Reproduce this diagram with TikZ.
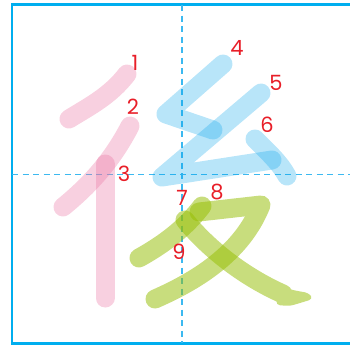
\documentclass[tikz,border=0pt]{standalone}
\usepackage{fontspec}
\setmainfont{Poppins}
\begin{document}
\begin{tikzpicture}[x=1pt,y=-1pt,
  stroke/.style={line width=19pt,line cap=round,line join=round},
  pinkstroke/.style={stroke,draw=pinkc,opacity=0.35},
  bluestroke/.style={stroke,draw=bluec,opacity=0.28},
  greenstroke/.style={stroke,draw=greenc,opacity=0.52},
  guide/.style={draw=guidec,line width=1.2pt,dash pattern=on 6pt off 4.5pt},
  num/.style={text=numc,font=\fontsize{21}{21}\selectfont,inner sep=0pt}]
\definecolor{pinkc}{RGB}{235,120,165}
\definecolor{bluec}{RGB}{0,160,235}
\definecolor{greenc}{RGB}{150,190,5}
\definecolor{guidec}{RGB}{60,185,240}
\definecolor{framec}{RGB}{0,174,239}
\definecolor{numc}{RGB}{232,30,40}
\useasboundingbox (0,0) rectangle (350,346);
% frame and guides
\coordinate (fTL) at (12,4.7);
\coordinate (fBR) at (356,343.5);
\draw[draw=framec,line width=2.5pt] (fTL) rectangle (fBR);
\coordinate (vT) at (182,5);
\coordinate (vB) at (182,343);
\coordinate (hL) at (12,174.3);
\coordinate (hR) at (350,174.3);
\draw[guide] (vT) -- (vB);
\draw[guide] (hL) -- (hR);
% pink strokes
\coordinate (s1a) at (127,74);
\coordinate (s1b) at (69,119);
\draw[pinkstroke] (s1a) .. controls (110,96) and (90,106) .. (s1b);
\coordinate (s2a) at (130,126);
\coordinate (s2b) at (63,207);
\draw[pinkstroke] (s2a) .. controls (115,155) and (95,181) .. (s2b);
\coordinate (s3a) at (105,164);
\coordinate (s3b) at (105,298);
\draw[pinkstroke] (s3a) -- (s3b);
% blue strokes
\coordinate (s4a) at (223,64);
\coordinate (s4b) at (166,114);
\coordinate (s4c) at (213,130);
\draw[bluestroke] (s4a) -- (s4b) -- (s4c);
\coordinate (s5a) at (261,93);
\coordinate (s5b) at (162,177);
\coordinate (s5c) at (272,160);
\draw[bluestroke] (s5a) -- (s5b) -- (s5c);
\coordinate (s6a) at (255,139);
\coordinate (s6b) at (287,176);
\draw[bluestroke] (s6a) .. controls (268,152) and (280,163) .. (s6b);
% green strokes
\coordinate (s7a) at (202,206);
\coordinate (s7b) at (139,258);
\draw[greenstroke] (s7a) .. controls (186,227) and (166,243) .. (s7b);
\coordinate (s8a) at (199,212);
\coordinate (s8b) at (261,205);
\coordinate (s8c) at (155,299);
\draw[greenstroke] (s8a) -- (s8b) .. controls (245,245) and (210,275) .. (s8c);
\coordinate (s9a) at (185,220);
\coordinate (s9b) at (283,294);
\begin{scope}[transparency group,opacity=0.52]
\draw[stroke,draw=greenc] (s9a) .. controls (205,245) and (240,275) .. (s9b);
\fill[greenc,rounded corners=4pt] (278,285) .. controls (292,290) .. (309,293) -- (313,299) -- (300,303) .. controls (290,306) .. (276,305) -- cycle;
\end{scope}
% labels
\node[num] (n1) at (135,63) {1};
\node[num] (n2) at (133,107) {2};
\node[num] (n3) at (124,174) {3};
\node[num] (n4) at (237,48) {4};
\node[num] (n5) at (276,83) {5};
\node[num] (n6) at (267,125) {6};
\node[num] (n7) at (182,198) {7};
\node[num] (n8) at (217,192) {8};
\node[num] (n9) at (179,252) {9};
\end{tikzpicture}
\end{document}
